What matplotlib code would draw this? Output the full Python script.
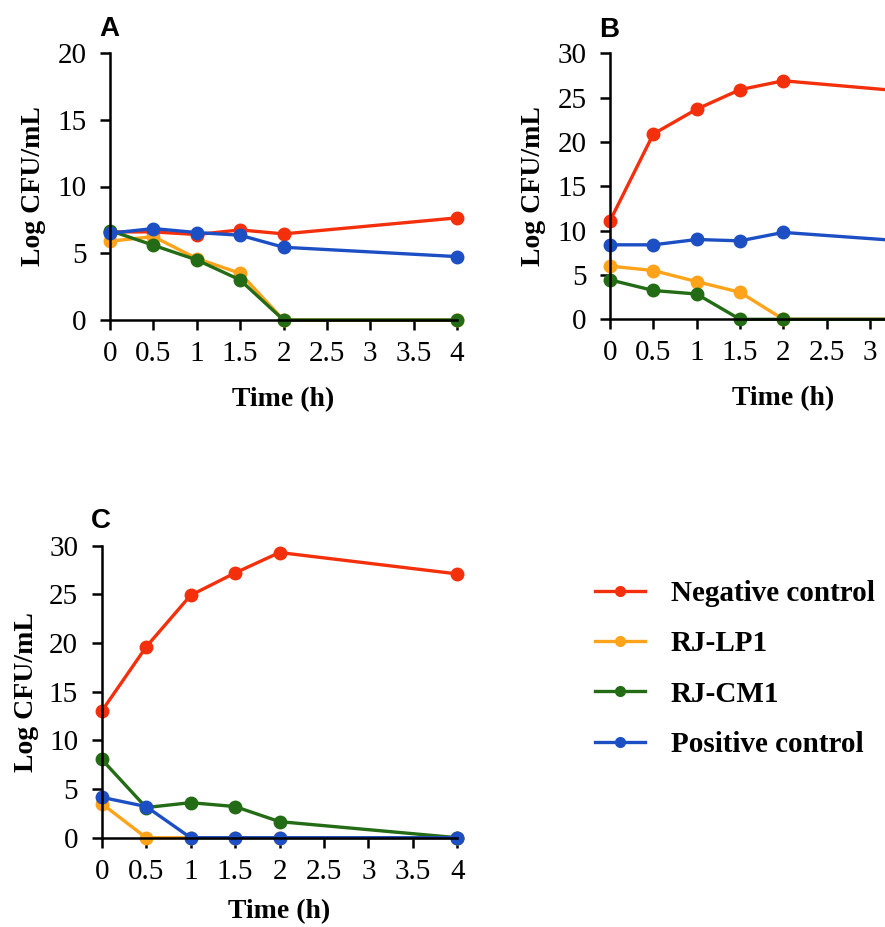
import numpy as np
import matplotlib
matplotlib.use("Agg")
import matplotlib.pyplot as plt

# time points (h)
time_h = [0, 0.5, 1, 1.5, 2, 4]

# panel A
a_negative = [6.6, 6.6, 6.4, 6.75, 6.45, 7.65]
a_lp1 = [5.9, 6.25, 4.6, 3.5, 0, 0]
a_cm1 = [6.7, 5.6, 4.5, 3.0, 0, 0]
a_positive = [6.5, 6.85, 6.55, 6.35, 5.45, 4.75]

# panel B
b_negative = [11.1, 20.9, 23.7, 25.9, 26.9, 25.2]
b_lp1 = [6.0, 5.5, 4.25, 3.05, 0, 0]
b_cm1 = [4.45, 3.25, 2.85, 0, 0, 0]
b_positive = [8.4, 8.4, 9.0, 8.85, 9.8, 8.4]

# panel C
c_negative = [13.0, 19.6, 24.9, 27.2, 29.3, 27.1]
c_lp1 = [3.5, 0, 0, 0, 0, 0]
c_cm1 = [8.05, 3.1, 3.6, 3.2, 1.65, 0]
c_positive = [4.15, 3.2, 0, 0, 0, 0]

series_names = ["Negative control", "RJ-LP1", "RJ-CM1", "Positive control"]
series_colors = ["#f4300c", "#ffa31a", "#236b15", "#1d4fc4"]

x_ticks = [0, 0.5, 1, 1.5, 2, 2.5, 3, 3.5, 4]
x_tick_labels = ["0", "0.5", "1", "1.5", "2", "2.5", "3", "3.5", "4"]

SERIF = "Liberation Serif"
SANS = "Liberation Sans"
FS = 20
TICK_FS = 21

W, H = 885, 927
fig = plt.figure(figsize=(W / 100, H / 100), dpi=100)


def px_axes(left, right, top, bottom):
    return fig.add_axes([left / W, 1 - bottom / H, (right - left) / W, (bottom - top) / H])


def draw_panel(ax, data, ymax, letter, label_x):
    for vals, name, col in zip(data, series_names, series_colors):
        ax.plot(time_h, vals, color=col, lw=2.4, marker="o", markersize=9,
                label=name, clip_on=False)
    ax.set_xlim(0, 4)
    ax.set_ylim(0, ymax)
    ax.set_xticks(x_ticks)
    ax.set_xticklabels(x_tick_labels)
    ax.set_yticks(np.arange(0, ymax + 1, 5))
    for s in ["top", "right"]:
        ax.spines[s].set_visible(False)
    for s in ["left", "bottom"]:
        ax.spines[s].set_linewidth(1.8)
    ax.tick_params(axis="both", direction="out", length=7, width=1.8, labelsize=TICK_FS)
    ax.tick_params(axis="y", pad=10)
    ax.tick_params(axis="x", pad=8)
    for t in ax.get_xticklabels() + ax.get_yticklabels():
        t.set_fontfamily(SERIF)
    ax.set_xlabel("Time (h)", fontsize=FS, fontweight="bold", fontfamily=SERIF)
    ax.set_ylabel("Log CFU/mL", fontsize=FS, fontweight="bold", fontfamily=SERIF)
    ax.xaxis.set_label_coords(0.5, -0.25)
    ax.yaxis.set_label_coords(label_x, 0.5)
    ax.text(-0.03, 1.04, letter, transform=ax.transAxes, fontsize=FS, fontweight="bold",
            fontfamily=SANS, ha="left", va="bottom")


axA = px_axes(110, 457, 53, 320)
draw_panel(axA, [a_negative, a_lp1, a_cm1, a_positive], 20, "A", -0.184)

axB = px_axes(610, 956.7, 53.3, 319.3)
draw_panel(axB, [b_negative, b_lp1, b_cm1, b_positive], 30, "B", -0.185)
# panel B runs past the right edge of the figure; labels past the edge are not shown
for t in axB.get_xticklabels()[7:]:
    t.set_visible(False)

axC = px_axes(101.7, 457.3, 545.7, 837.7)
draw_panel(axC, [c_negative, c_lp1, c_cm1, c_positive], 30, "C", -0.176)
axC.xaxis.set_label_coords(0.5, -0.21)

handles, labels = axC.get_legend_handles_labels()
leg = fig.legend(handles, labels, loc="upper left", bbox_to_anchor=(595 / W, 1 - 580 / H),
                 frameon=False, borderpad=0, borderaxespad=0, handlelength=1.7,
                 handletextpad=0.9, labelspacing=0.8,
                 prop={"family": SERIF, "weight": "bold", "size": 21})
for h in leg.legend_handles:
    h.set_markersize(7)

fig.savefig("out.png", dpi=100)
